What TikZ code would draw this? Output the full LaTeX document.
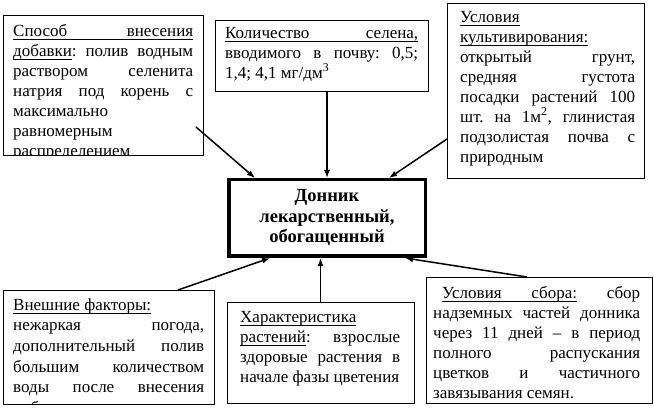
\documentclass[tikz,border=0pt]{standalone}
\usepackage{fontspec}
\setmainfont{Liberation Serif}
\usetikzlibrary{calc,arrows.meta}
% underlined word and underlined (stretching) space
\newcommand\uln[1]{\setbox0\hbox{#1}\rlap{\vrule height -2.6pt depth 3.4pt width\wd0}\box0\relax}
\newcommand\ulsp{\leaders\hrule height -2.6pt depth 3.4pt\hskip\fontdimen2\font plus\fontdimen3\font minus\fontdimen4\font\relax}
\begin{document}
\begin{tikzpicture}[x=1pt,y=-1pt,
  box/.style={draw,line width=.8pt,inner sep=0pt,outer sep=0pt,anchor=north west},
  txt/.style={inner sep=0pt,anchor=north west,align=justify,
    font=\fontsize{17}{20}\selectfont\frenchspacing},
  arr/.style={line width=1.5pt,-{Latex[length=8pt,width=6pt]}}]
\useasboundingbox (0,0) rectangle (654,409);
\def\clipbox#1{\clip (#1.north west) rectangle (#1.south east);}
% frames
\node[box,minimum width=200pt,minimum height=140pt] (sposob) at (3,15) {};
\node[box,minimum width=213pt,minimum height=71pt]  (kolich) at (215,20) {};
\node[box,minimum width=197pt,minimum height=175pt] (uslov)  at (447,3) {};
\node[box,minimum width=211pt,minimum height=114pt] (vneshn) at (3,290) {};
\node[box,minimum width=187pt,minimum height=101pt] (harakt) at (227,302) {};
\node[box,minimum width=226pt,minimum height=126pt] (sbor)   at (426,277) {};
\node[draw,line width=3.5pt,minimum width=196.5pt,minimum height=76.5pt,align=center,
  font=\fontsize{18.5}{20.5}\selectfont\bfseries] (donnik) at (327,218)
  {Донник\\ лекарственный,\\ обогащенный};
% texts
\begin{scope}
\clipbox{sposob}
\node[txt,text width=180pt] (sposobt) at (13,22) {\noindent\strut\uln{Способ}\ulsp\uln{внесения}\linebreak
  \uln{добавки}: полив водным\linebreak раствором селенита\linebreak
  натрия под корень с\linebreak максимально\\ равномерным\\ распределением};
\end{scope}
\node[txt,text width=193pt] (kolicht) at (225,24) {\noindent\strut\uln{Количество}\ulsp\uln{селена,}\linebreak
  вводимого в почву: 0,5;\linebreak 1,4; 4,1 мг/дм\textsuperscript{3}};
\begin{scope}
\clipbox{uslov}
\node[txt,text width=175pt] (uslovt) at (460,8) {\noindent\strut\uln{Условия}\\
  \uln{культивирования:}\\ открытый грунт,\linebreak средняя густота\linebreak
  посадки растений 100\linebreak шт. на 1м\textsuperscript{2}, глинистая\linebreak
  подзолистая почва с\linebreak природным};
\end{scope}
\begin{scope}
\clipbox{vneshn}
\node[txt,text width=191pt,font=\fontsize{17}{20.7}\selectfont\frenchspacing] (vneshnt) at (13,295.5)
  {\noindent\strut\uln{Внешние}\ulsp\uln{факторы:}\\
  нежаркая погода,\linebreak дополнительный полив\linebreak большим количеством\linebreak
  воды после внесения\linebreak добавки};
\end{scope}
\node[txt,text width=160pt] (haraktt) at (240,308) {\noindent\strut\uln{Характеристика}\\
  \uln{растений}: взрослые\linebreak здоровые растения в\linebreak начале фазы цветения};
\node[txt,text width=207pt] (sbort) at (433,284) {\noindent\strut\hspace*{9pt}\uln{Условия}\ulsp\uln{сбора:} сбор\linebreak
  надземных частей донника\linebreak через 11 дней – в период\linebreak
  полного распускания\linebreak цветков и частичного\linebreak завязывания семян.};
% arrows
\draw[arr] ($(sposob.south east)+(-7,-28)$) -- ($(donnik.north west)!.14!(donnik.north east)$);
\draw[arr] (kolich.south -| donnik.north) -- (donnik.north);
\draw[arr] ($(uslov.south west)+(0,-39)$) -- ($(donnik.north west)!.81!(donnik.north east)$);
\draw[arr] ($(vneshn.north east)+(-36,0)$) -- ($(donnik.south west)!.215!(donnik.south east)$);
\draw[arr] (harakt.north) -- (harakt.north |- donnik.south);
\draw[arr] ($(sbor.north)+(-12,0)$) -- ($(donnik.south west)!.89!(donnik.south east)$);
\end{tikzpicture}
\end{document}
